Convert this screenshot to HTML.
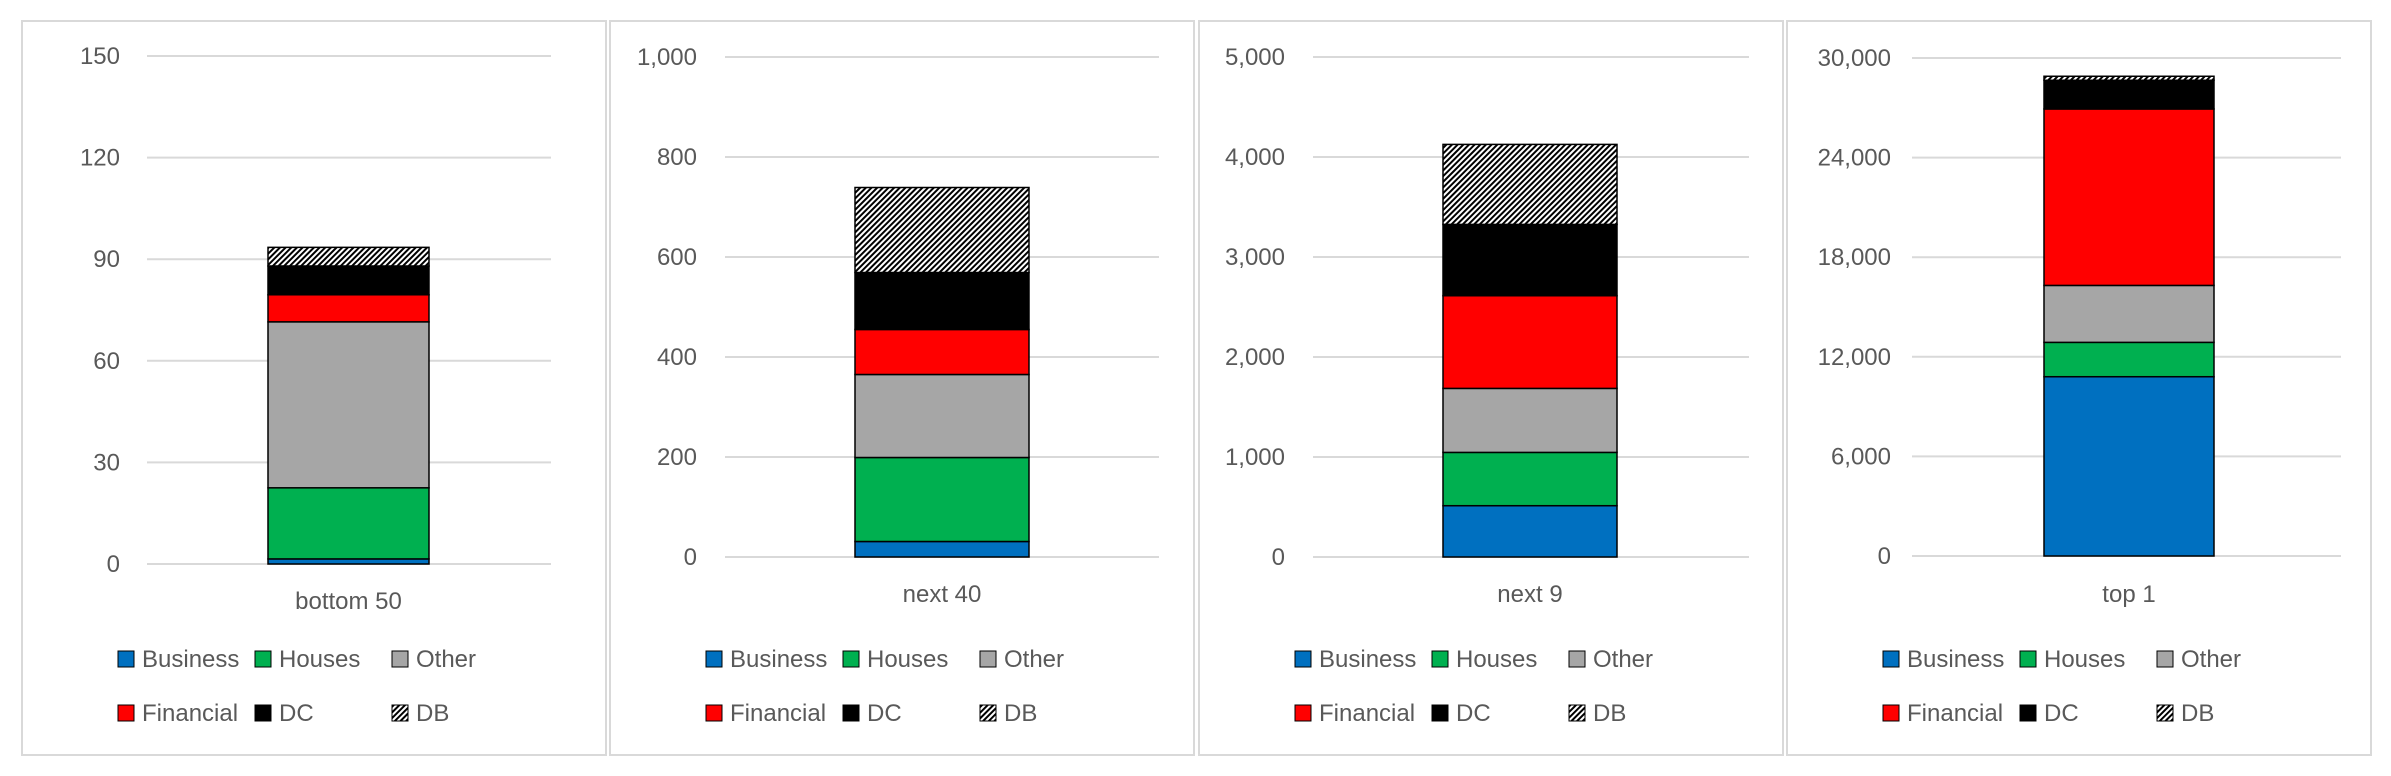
<!DOCTYPE html>
<html><head><meta charset="utf-8">
<style>
html,body{margin:0;padding:0;background:#fff;}
svg{display:block;font-family:"Liberation Sans",Arial,sans-serif;}
</style></head>
<body>
<svg id="chart" width="2391" height="776" viewBox="0 0 2391 776">
<defs>
<pattern id="hatch" width="4" height="4" patternUnits="userSpaceOnUse" patternTransform="rotate(45)">
<rect width="4" height="4" fill="#fff"/>
<rect width="2" height="4" fill="#000"/>
</pattern>
</defs>
</svg>
<script>
const categories = ["bottom 50", "next 40", "next 9", "top 1"];
const seriesNames = ["Business", "Houses", "Other", "Financial", "DC", "DB"];
const business = [1.5, 31, 513, 10800];
const houses = [21, 168, 533, 2070];
const other = [49, 166, 640, 3430];
const financial = [8, 90, 927, 10630];
const dc = [8.5, 114, 713, 1730];
const db = [5.5, 170, 800, 240];
const axisMax = [150, 1000, 5000, 30000];
const tickLabels = [
  ["0","30","60","90","120","150"],
  ["0","200","400","600","800","1,000"],
  ["0","1,000","2,000","3,000","4,000","5,000"],
  ["0","6,000","12,000","18,000","24,000","30,000"]
];
const series = [business, houses, other, financial, dc, db];
const fills = ["#0070C0", "#00B050", "#A6A6A6", "#FF0000", "#000000", "url(#hatch)"];

const NS = "http://www.w3.org/2000/svg";
const svg = document.getElementById("chart");
function mk(tag, attrs, parent) {
  const e = document.createElementNS(NS, tag);
  for (const k in attrs) e.setAttribute(k, attrs[k]);
  (parent || svg).appendChild(e);
  return e;
}
const panelX = [22, 610, 1199, 1787];
const panelW = 584;
const plotTop = [56, 57, 57, 58];
const plotBot = [564, 557, 557, 556];
const gridL = [147, 725, 1313, 1912];
const gridR = [551, 1159, 1749, 2341];
const barL = [268, 855, 1443, 2044];
const barR = [429, 1029, 1617, 2214];
const labelR = [120, 697, 1285, 1891];
const catY = [609, 602, 602, 602];

for (let p = 0; p < categories.length; p++) {
  const g = mk("g", {});
  
  
  const border = mk("rect", {x: panelX[p], y: 21, width: panelW, height: 734, fill: "#fff", stroke: "#d9d9d9", "stroke-width": 2}, g);
  
  
  const yScale = v => plotBot[p] - v / axisMax[p] * (plotBot[p] - plotTop[p]);
  const ticks = tickLabels[p];
  for (let i = 0; i < ticks.length; i++) {
    const val = axisMax[p] * i / (ticks.length - 1);
    const y = yScale(val);
    const gl = mk("line", {x1: gridL[p], x2: gridR[p], y1: y, y2: y, stroke: "#d9d9d9", "stroke-width": 2}, g);
    
    
    const t = mk("text", {x: labelR[p], y: y + 8, "text-anchor": "end", "font-size": 24, fill: "#595959"}, g);
    t.textContent = ticks[i];
    
    
  }
  let cum = 0;
  for (let s = 0; s < series.length; s++) {
    const v = series[s][p];
    const y0 = yScale(cum), y1 = yScale(cum + v);
    cum += v;
    const r = mk("rect", {x: barL[p], y: y1, width: barR[p] - barL[p], height: Math.max(0, y0 - y1), fill: fills[s], stroke: "#000", "stroke-width": 1.5}, g);
    
    
  }
  const c = mk("text", {x: (barL[p] + barR[p]) / 2, y: catY[p], "text-anchor": "middle", "font-size": 24, fill: "#595959"}, g);
  c.textContent = categories[p];
  
  
  const offs = [96, 233, 370];
  const rows = [659, 713];
  for (let s = 0; s < seriesNames.length; s++) {
    const lx = panelX[p] + offs[s % 3];
    const ly = rows[Math.floor(s / 3)];
    const sw = mk("rect", {x: lx, y: ly - 8, width: 16, height: 16, fill: fills[s], stroke: "#000", "stroke-width": 1}, g);
    
    
    const lt = mk("text", {x: lx + 24, y: ly + 8, "font-size": 24, fill: "#595959"}, g);
    lt.textContent = seriesNames[s];
    
    
  }
}
</script>
</body></html>
